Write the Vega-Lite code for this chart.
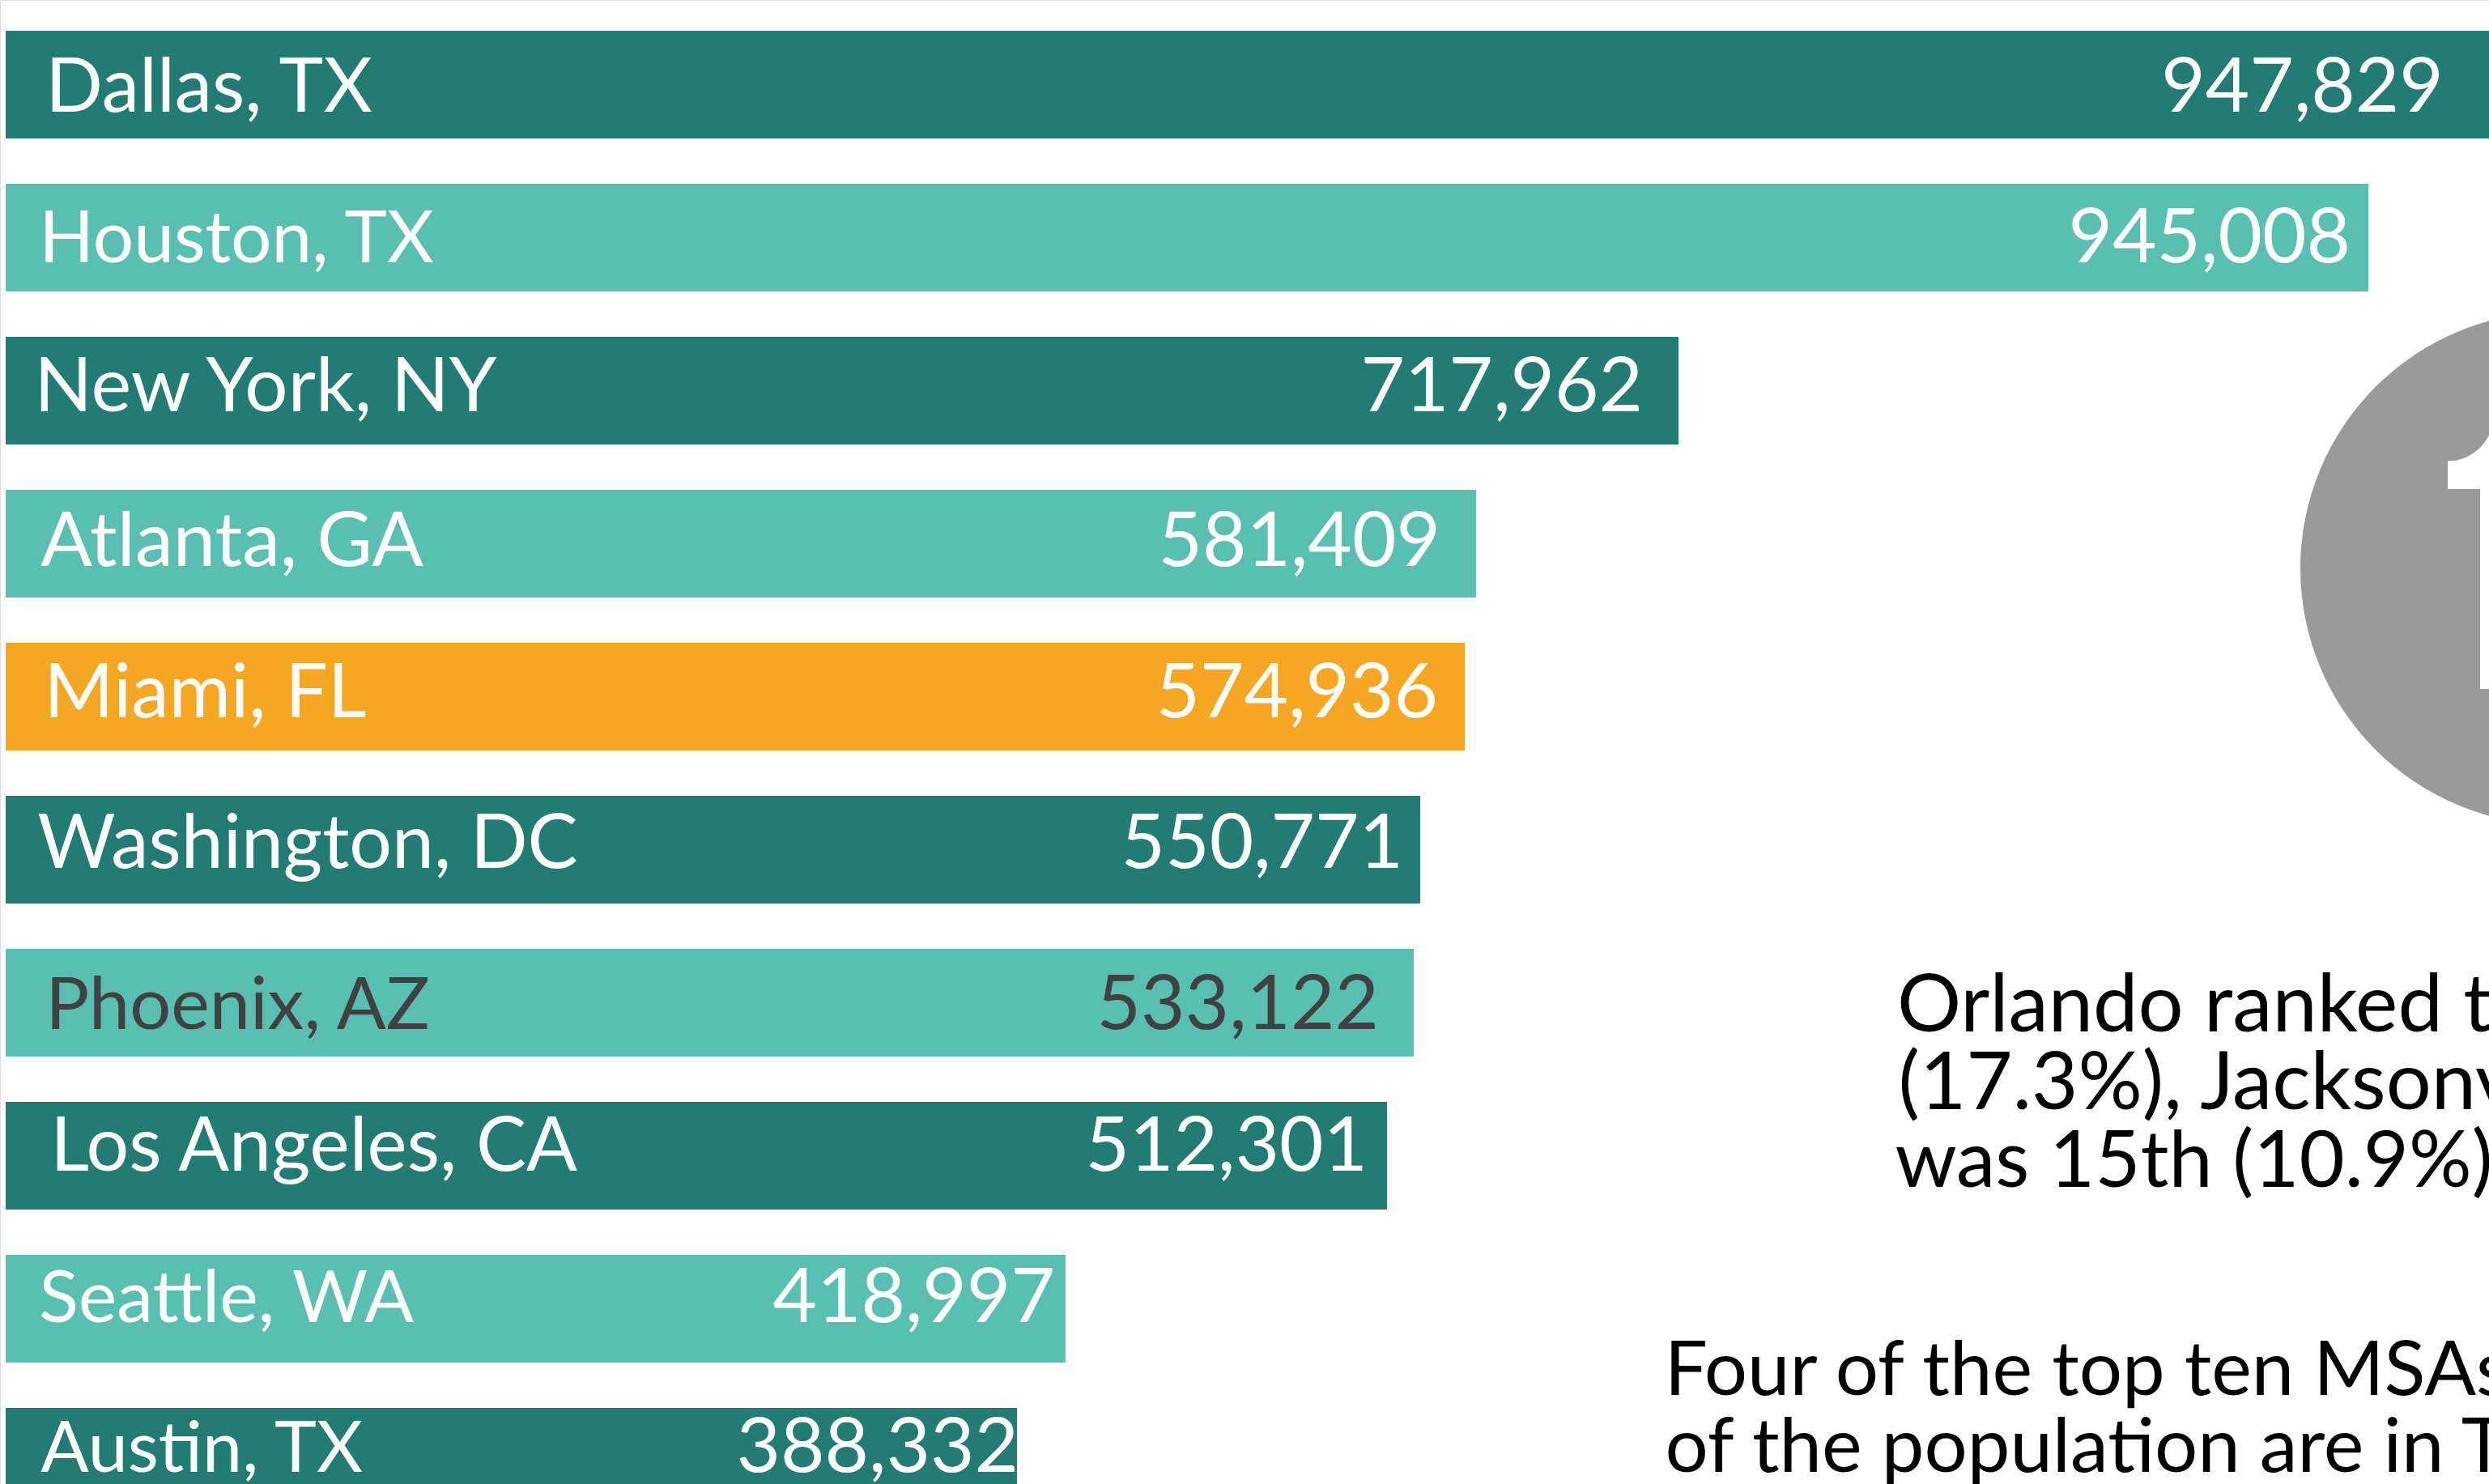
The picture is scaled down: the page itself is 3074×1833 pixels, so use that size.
{"$schema":"https://vega.github.io/schema/vega-lite/v6.json","width":3074,"height":1833,"padding":0,"autosize":{"type":"none"},"background":"white",
"datasets":{"cities":[
{"city":"Dallas, TX","population":947829,"label":"947,829","drawn_length":1000000,"tone":"dark"},
{"city":"Houston, TX","population":945008,"label":"945,008","drawn_length":945008,"tone":"light"},
{"city":"New York, NY","population":717962,"label":"717,962","drawn_length":669100,"tone":"dark"},
{"city":"Atlanta, GA","population":581409,"label":"581,409","drawn_length":588100,"tone":"light"},
{"city":"Miami, FL","population":574936,"label":"574,936","drawn_length":583600,"tone":"highlight"},
{"city":"Washington, DC","population":550771,"label":"550,771","drawn_length":565800,"tone":"dark"},
{"city":"Phoenix, AZ","population":533122,"label":"533,122","drawn_length":563200,"tone":"light"},
{"city":"Los Angeles, CA","population":512301,"label":"512,301","drawn_length":552500,"tone":"dark"},
{"city":"Seattle, WA","population":418997,"label":"418,997","drawn_length":423900,"tone":"light"},
{"city":"Austin, TX","population":388332,"label":"388,332","drawn_length":404500,"tone":"dark"}
]},
"data":{"name":"cities"},
"encoding":{"y":{"field":"city","type":"nominal","axis":null,"scale":{"domain":["Dallas, TX","Houston, TX","New York, NY","Atlanta, GA","Miami, FL","Washington, DC","Phoenix, AZ","Los Angeles, CA","Seattle, WA","Austin, TX"],"range":[38,1872],"paddingInner":0.2963,"paddingOuter":0}}},
"layer":[
{"mark":{"type":"bar"},"encoding":{"x":{"field":"drawn_length","type":"quantitative","axis":null,"scale":{"domain":[-2267,993262],"range":[0,3074],"nice":false,"zero":false}},"x2":{"datum":0},"color":{"field":"tone","type":"nominal","legend":null,"scale":{"domain":["dark","light","highlight"],"range":["#227c73","#59bfb1","#f5a623"]}}}},
{"transform":[{"filter":"datum.city==='Dallas, TX'"}],"mark":{"type":"text","align":"left","baseline":"alphabetic","font":"Lato","fontSize":93,"color":"#ffffff","dy":34,"dx":6},"encoding":{"x":{"datum":14000},"text":{"field":"city"}}},
{"transform":[{"filter":"datum.city==='Dallas, TX'"}],"mark":{"type":"text","align":"right","baseline":"alphabetic","font":"Lato","fontSize":94,"color":"#ffffff","dy":34,"dx":-77},"encoding":{"x":{"field":"drawn_length","type":"quantitative"},"text":{"field":"label"}}},
{"transform":[{"filter":"datum.city==='Houston, TX'"}],"mark":{"type":"text","align":"left","baseline":"alphabetic","font":"Lato","fontSize":89,"color":"#ffffff","dy":31,"dx":-2},"encoding":{"x":{"datum":14000},"text":{"field":"city"}}},
{"transform":[{"filter":"datum.city==='Houston, TX'"}],"mark":{"type":"text","align":"right","baseline":"alphabetic","font":"Lato","fontSize":94,"color":"#ffffff","dy":31,"dx":-22},"encoding":{"x":{"field":"drawn_length","type":"quantitative"},"text":{"field":"label"}}},
{"transform":[{"filter":"datum.city==='New York, NY'"}],"mark":{"type":"text","align":"left","baseline":"alphabetic","font":"Lato","fontSize":94,"color":"#ffffff","dy":26,"dx":-8},"encoding":{"x":{"datum":14000},"text":{"field":"city"}}},
{"transform":[{"filter":"datum.city==='New York, NY'"}],"mark":{"type":"text","align":"right","baseline":"alphabetic","font":"Lato","fontSize":94,"color":"#ffffff","dy":26,"dx":-44},"encoding":{"x":{"field":"drawn_length","type":"quantitative"},"text":{"field":"label"}}},
{"transform":[{"filter":"datum.city==='Atlanta, GA'"}],"mark":{"type":"text","align":"left","baseline":"alphabetic","font":"Lato","fontSize":94,"color":"#ffffff","dy":28,"dx":0},"encoding":{"x":{"datum":14000},"text":{"field":"city"}}},
{"transform":[{"filter":"datum.city==='Atlanta, GA'"}],"mark":{"type":"text","align":"right","baseline":"alphabetic","font":"Lato","fontSize":94,"color":"#ffffff","dy":28,"dx":-44},"encoding":{"x":{"field":"drawn_length","type":"quantitative"},"text":{"field":"label"}}},
{"transform":[{"filter":"datum.city==='Miami, FL'"}],"mark":{"type":"text","align":"left","baseline":"alphabetic","font":"Lato","fontSize":93,"color":"#ffffff","dy":26,"dx":4},"encoding":{"x":{"datum":14000},"text":{"field":"city"}}},
{"transform":[{"filter":"datum.city==='Miami, FL'"}],"mark":{"type":"text","align":"right","baseline":"alphabetic","font":"Lato","fontSize":94,"color":"#ffffff","dy":26,"dx":-33},"encoding":{"x":{"field":"drawn_length","type":"quantitative"},"text":{"field":"label"}}},
{"transform":[{"filter":"datum.city==='Washington, DC'"}],"mark":{"type":"text","align":"left","baseline":"alphabetic","font":"Lato","fontSize":93,"color":"#ffffff","dy":22,"dx":-4},"encoding":{"x":{"datum":14000},"text":{"field":"city"}}},
{"transform":[{"filter":"datum.city==='Washington, DC'"}],"mark":{"type":"text","align":"right","baseline":"alphabetic","font":"Lato","fontSize":94,"color":"#ffffff","dy":22,"dx":-21},"encoding":{"x":{"field":"drawn_length","type":"quantitative"},"text":{"field":"label"}}},
{"transform":[{"filter":"datum.city==='Phoenix, AZ'"}],"mark":{"type":"text","align":"left","baseline":"alphabetic","font":"Lato","fontSize":90,"color":"#414042","dy":32,"dx":6},"encoding":{"x":{"datum":14000},"text":{"field":"city"}}},
{"transform":[{"filter":"datum.city==='Phoenix, AZ'"}],"mark":{"type":"text","align":"right","baseline":"alphabetic","font":"Lato","fontSize":94,"color":"#414042","dy":32,"dx":-43},"encoding":{"x":{"field":"drawn_length","type":"quantitative"},"text":{"field":"label"}}},
{"transform":[{"filter":"datum.city==='Los Angeles, CA'"}],"mark":{"type":"text","align":"left","baseline":"alphabetic","font":"Lato","fontSize":93,"color":"#ffffff","dy":18,"dx":12},"encoding":{"x":{"datum":14000},"text":{"field":"city"}}},
{"transform":[{"filter":"datum.city==='Los Angeles, CA'"}],"mark":{"type":"text","align":"right","baseline":"alphabetic","font":"Lato","fontSize":94,"color":"#ffffff","dy":18,"dx":-24},"encoding":{"x":{"field":"drawn_length","type":"quantitative"},"text":{"field":"label"}}},
{"transform":[{"filter":"datum.city==='Seattle, WA'"}],"mark":{"type":"text","align":"left","baseline":"alphabetic","font":"Lato","fontSize":90,"color":"#ffffff","dy":16,"dx":-2},"encoding":{"x":{"datum":14000},"text":{"field":"city"}}},
{"transform":[{"filter":"datum.city==='Seattle, WA'"}],"mark":{"type":"text","align":"right","baseline":"alphabetic","font":"Lato","fontSize":94,"color":"#ffffff","dy":16,"dx":-13},"encoding":{"x":{"field":"drawn_length","type":"quantitative"},"text":{"field":"label"}}},
{"transform":[{"filter":"datum.city==='Austin, TX'"}],"mark":{"type":"text","align":"left","baseline":"alphabetic","font":"Lato","fontSize":88,"color":"#ffffff","dy":12,"dx":0},"encoding":{"x":{"datum":14000},"text":{"field":"city"}}},
{"transform":[{"filter":"datum.city==='Austin, TX'"}],"mark":{"type":"text","align":"right","baseline":"alphabetic","font":"Lato","fontSize":94,"color":"#ffffff","dy":12,"dx":2},"encoding":{"x":{"field":"drawn_length","type":"quantitative"},"text":{"field":"label"}}},
{"transform":[{"filter":"datum.city==='Atlanta, GA'"}],"mark":{"type":"point","shape":"circle","filled":true,"opacity":1,"color":"#9a9a9a","size":401956,"yOffset":30.5},"encoding":{"x":{"datum":1020464}}},
{"transform":[{"filter":"datum.city==='Atlanta, GA'"}],"mark":{"type":"point","shape":"square","filled":true,"opacity":1,"color":"#ffffff","size":8281,"yOffset":-113},"encoding":{"x":{"datum":991483}}},
{"transform":[{"filter":"datum.city==='Atlanta, GA'"}],"mark":{"type":"point","shape":"square","filled":true,"opacity":1,"color":"#ffffff","size":61009,"yOffset":56},"encoding":{"x":{"datum":1029696}}},
{"transform":[{"filter":"datum.city==='Atlanta, GA'"}],"mark":{"type":"point","shape":"circle","filled":true,"opacity":1,"color":"#9a9a9a","size":12800,"yOffset":-158.5},"encoding":{"x":{"datum":976744}}},
{"transform":[{"filter":"datum.city==='Phoenix, AZ'"}],"mark":{"type":"text","align":"left","baseline":"alphabetic","font":"Lato","fontSize":99,"color":"#000000","dy":35.5},"encoding":{"x":{"datum":756500},"text":{"value":"Orlando ranked t"}}},
{"transform":[{"filter":"datum.city==='Los Angeles, CA'"}],"mark":{"type":"text","align":"left","baseline":"alphabetic","font":"Lato","fontSize":99,"color":"#000000","dy":-57.5},"encoding":{"x":{"datum":757000},"text":{"value":"(17.3%), Jacksonv"}}},
{"transform":[{"filter":"datum.city==='Los Angeles, CA'"}],"mark":{"type":"text","align":"left","baseline":"alphabetic","font":"Lato","fontSize":97,"color":"#000000","dy":38.5},"encoding":{"x":{"datum":755700},"text":{"value":"was 15th (10.9%)"}}},
{"transform":[{"filter":"datum.city==='Austin, TX'"}],"mark":{"type":"text","align":"left","baseline":"alphabetic","font":"Lato","fontSize":94,"color":"#000000","dy":-82.5},"encoding":{"x":{"datum":663500},"text":{"value":"Four of the top ten MSAs"}}},
{"transform":[{"filter":"datum.city==='Austin, TX'"}],"mark":{"type":"text","align":"left","baseline":"alphabetic","font":"Lato","fontSize":94,"color":"#000000","dy":12.5},"encoding":{"x":{"datum":663700},"text":{"value":"of the population are in T"}}}
]}
